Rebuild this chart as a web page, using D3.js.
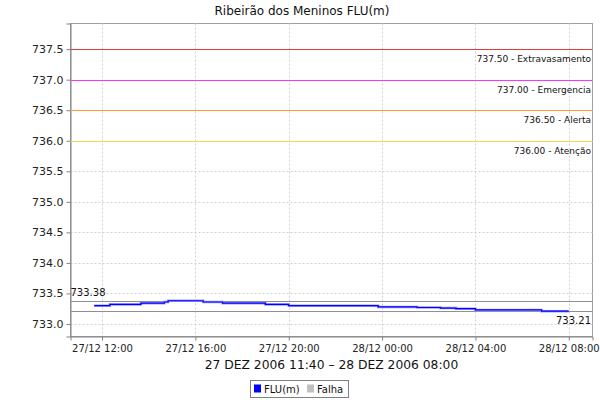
<!DOCTYPE html>
<html><head><meta charset="utf-8">
<script src="https://cdn.jsdelivr.net/npm/d3@7"></script>
<style>body{margin:0;background:#fff}svg{display:block}text{font-family:"DejaVu Sans",sans-serif}</style>
</head><body><svg id="c" width="600" height="400"></svg>
<script>
// ---- data ----
const times = ["2006-12-27T11:40","2006-12-27T12:20","2006-12-27T13:40","2006-12-27T14:40","2006-12-27T14:50",
  "2006-12-27T16:20","2006-12-27T17:10","2006-12-27T19:00","2006-12-27T20:00","2006-12-27T23:50",
  "2006-12-28T01:30","2006-12-28T02:30","2006-12-28T03:10","2006-12-28T04:00","2006-12-28T06:50","2006-12-28T08:00"];
const values = [733.30,733.32,733.34,733.36,733.38,733.36,733.34,733.32,733.30,733.28,733.27,733.26,733.25,733.23,733.21,733.21];
const thresholdValues = [737.5,737.0,736.5,736.0];
const thresholdLabels = ["737.50 - Extravasamento","737.00 - Emergencia","736.50 - Alerta","736.00 - Atenção"];
const thresholdColors = ["#e03c3c","#ff33ff","#ff9933","#f8d848"];
const yTicks = [733.0,733.5,734.0,734.5,735.0,735.5,736.0,736.5,737.0,737.5];
const xTicks = ["2006-12-27T12:00","2006-12-27T16:00","2006-12-27T20:00","2006-12-28T00:00","2006-12-28T04:00","2006-12-28T08:00"];
const title = "Ribeirão dos Meninos FLU(m)";
const xLabel = "27 DEZ 2006 11:40 – 28 DEZ 2006 08:00";
const legendNames = ["FLU(m)","Falha"];
const legendColors = ["#0000ff","#c0c0c0"];

// ---- chart ----
const parse = d3.timeParse("%Y-%m-%dT%H:%M");
const svg = d3.select("#c");
const L=70.5,R=592.5,T=23.5,B=336.5;
const x = d3.scaleTime().domain([parse("2006-12-27T10:39"),parse("2006-12-28T09:01")]).range([L,R]);
const y = d3.scaleLinear().domain([732.795,737.92]).range([B,T]);

svg.append("text").attr("x",302).attr("y",15).attr("text-anchor","middle").attr("font-size",12).attr("fill","#111").text(title);

svg.append("rect").attr("x",L).attr("y",T).attr("width",R-L).attr("height",B-T).attr("fill","#fff").attr("stroke","#a0a0a0");

const g = svg.append("g");
// grid
g.selectAll(".vg").data(xTicks).join("line").attr("x1",d=>Math.round(x(parse(d)))+0.5).attr("x2",d=>Math.round(x(parse(d)))+0.5)
 .attr("y1",T).attr("y2",B).attr("stroke","#d0d0d0").attr("stroke-dasharray","2,2");
g.selectAll(".hg").data(yTicks).join("line").attr("y1",d=>Math.round(y(d))+0.5).attr("y2",d=>Math.round(y(d))+0.5)
 .attr("x1",L).attr("x2",R).attr("stroke","#d0d0d0").attr("stroke-dasharray","2,2");

// axes
const ya = d3.axisLeft(y).tickValues(yTicks).tickFormat(d3.format(".1f")).tickSize(4).tickPadding(3);
const yg = svg.append("g").attr("transform",`translate(${L},0)`).call(ya);
yg.select(".domain").attr("stroke","#808080");
yg.selectAll(".tick line").attr("stroke","#808080");
yg.selectAll("text").attr("font-size",11).attr("font-family","DejaVu Sans").attr("fill","#222");
const xa = d3.axisBottom(x).tickValues(xTicks.map(parse)).tickFormat(d3.timeFormat("%d/%m %H:%M")).tickSize(4).tickPadding(4);
const xg = svg.append("g").attr("transform",`translate(0,${B})`).call(xa);
xg.select(".domain").attr("stroke","#808080");
xg.selectAll(".tick line").attr("stroke","#808080");
xg.selectAll("text").attr("font-size",10).attr("font-family","DejaVu Sans").attr("fill","#222");

// thresholds
thresholdValues.forEach((v,i)=>{
  svg.append("line").attr("x1",L).attr("x2",R).attr("y1",Math.round(y(v))+0.5).attr("y2",Math.round(y(v))+0.5).attr("stroke",thresholdColors[i]);
  svg.append("text").attr("x",R-1.5).attr("y",y(v)+13).attr("text-anchor","end").attr("font-size",9).attr("fill","#111").text(thresholdLabels[i]);
});

// min / max lines
const maxV = d3.max(values), minV = d3.min(values);
[maxV,minV].forEach(v=>{
  svg.append("line").attr("x1",L).attr("x2",R).attr("y1",Math.round(y(v))+0.5).attr("y2",Math.round(y(v))+0.5).attr("stroke","#909090");
});
svg.append("text").attr("x",L).attr("y",y(maxV)-5).attr("font-size",10).attr("fill","#111").text(maxV.toFixed(2));
svg.append("text").attr("x",R-1.5).attr("y",y(minV)+13).attr("text-anchor","end").attr("font-size",10).attr("fill","#111").text(minV.toFixed(2));

// series
const pts = times.map((t,i)=>({t:parse(t),v:values[i]}));
const line = d3.line().x(d=>x(d.t)).y(d=>y(d.v)).curve(d3.curveStepAfter);
svg.append("path").datum(pts).attr("d",line).attr("fill","none").attr("stroke","#9999ff").attr("stroke-width",2.5);
svg.append("path").datum(pts).attr("d",line).attr("fill","none").attr("stroke","#0000ff").attr("stroke-width",1.2);

// x label
svg.append("text").attr("x",(L+R)/2).attr("y",369).attr("text-anchor","middle").attr("font-size",12.3).attr("fill","#111").text(xLabel);

// legend
const lg = svg.append("g");
lg.append("rect").attr("x",250.5).attr("y",380.5).attr("width",98).attr("height",17).attr("fill","#fff").attr("stroke","#808080");
const lx=[254,307];
legendNames.forEach((n,i)=>{
  lg.append("rect").attr("x",lx[i]).attr("y",384.5).attr("width",7).attr("height",8).attr("fill",legendColors[i]);
  lg.append("text").attr("x",lx[i]+10).attr("y",393).attr("font-size",10).attr("fill","#111").text(n);
});
</script></body></html>
